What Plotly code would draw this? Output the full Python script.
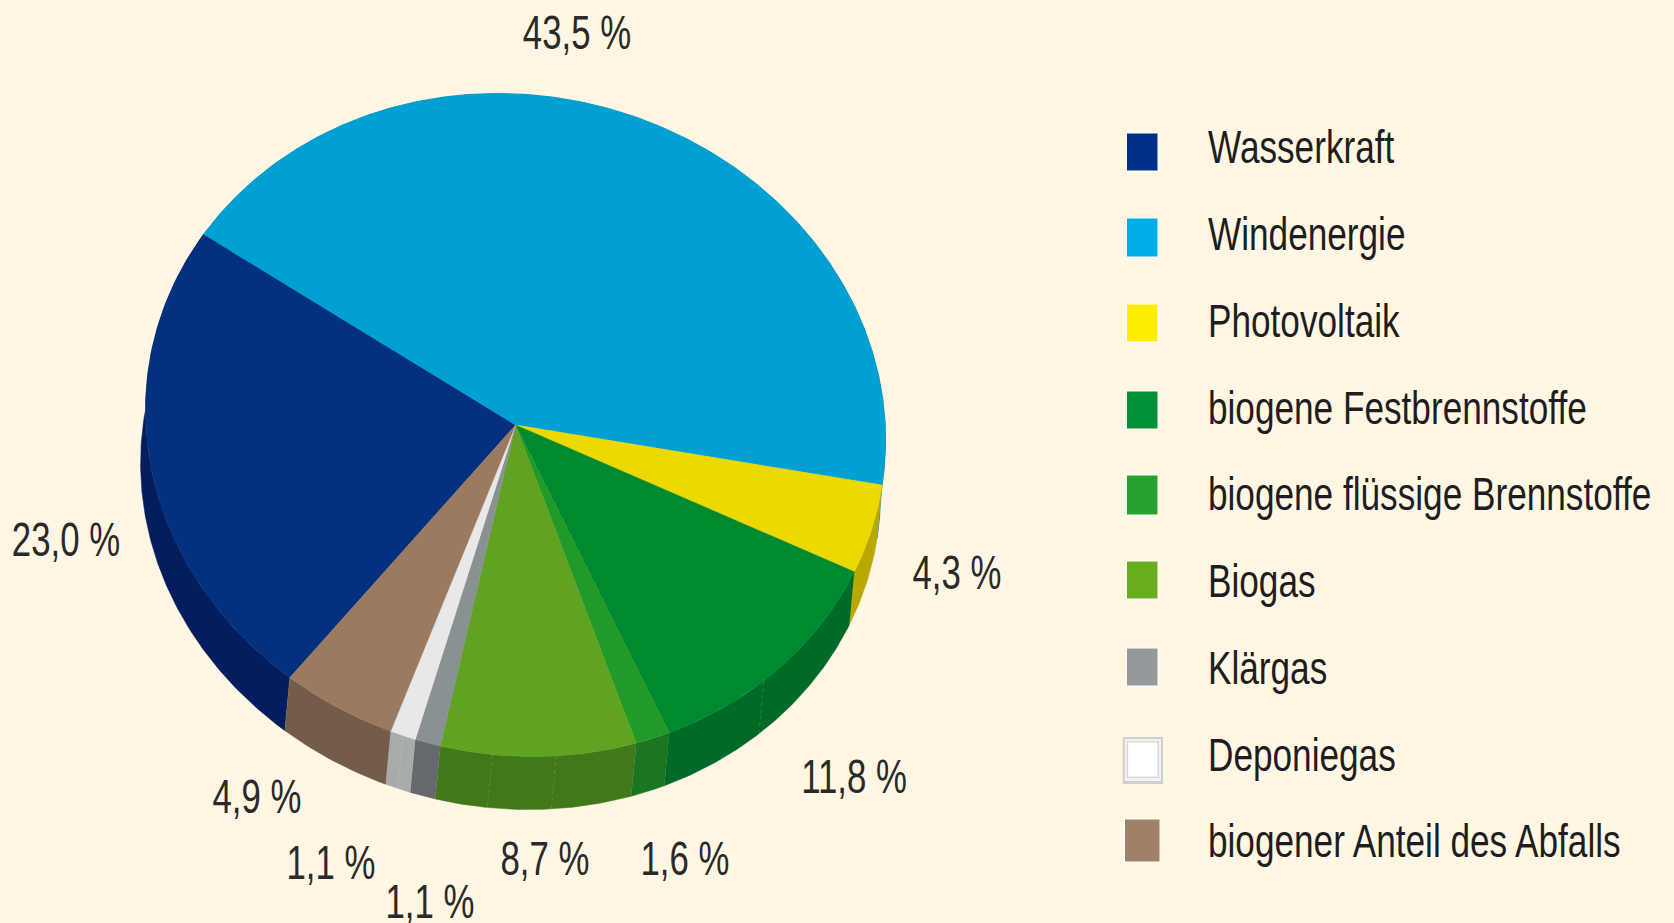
import numpy as np
import plotly.graph_objects as go

# --- data ---
categories = ["Wasserkraft", "Windenergie", "Photovoltaik", "biogene Festbrennstoffe",
              "biogene flüssige Brennstoffe", "Biogas", "Klärgas", "Deponiegas",
              "biogener Anteil des Abfalls"]
values = [23.0, 43.5, 4.3, 11.8, 1.6, 8.7, 1.1, 1.1, 4.9]
top_colors = ["#03307F", "#00A0D2", "#ECD900", "#008A30", "#229A2A", "#60A222", "#8A9193", "#E8E8E8", "#9A7B62"]
wall_colors = ["#021E5F", "#0080A8", "#B8A800", "#006A28", "#1C7520", "#41781A", "#65686C", "#A8ABAC", "#735C49"]
swatch_colors = ["#003087", "#00AEE8", "#FFED00", "#009036", "#28A22E", "#6AAE20", "#94999B", "#FFFFFF", "#A08068"]

# label centres (pixel layout of the page)
label_x = [66, 577, 957, 854, 685, 545, 430, 331, 257]
label_y = [544, 37, 577, 781, 863, 863, 906, 867, 801]
swatch_boxes = [(1126.4, 1158, 133, 171), (1126.4, 1158, 218, 257), (1126.4, 1158, 304, 342), (1126.4, 1158, 391, 429),
                (1126.4, 1158, 475, 515), (1126.4, 1158, 561, 599), (1126.4, 1158, 648, 686), (1122.7, 1163, 737, 784),
                (1124.5, 1160, 819, 862)]
# faint seams on the side wall: (slice index, fraction along the slice)
seams = [(3, 0.57), (5, 0.42), (5, 0.74), (7, 0.5)]

# --- geometry ---
BG = "#FFF7E3"
CX, CY, RX, RY = 515.6, 425.0, 365.5, 335.0
DX, DY = -5.0, 53.0
START = -139.1


def rim(t):
    d = (t - 180.0 + 180.0) % 360.0 - 180.0
    tw = t - 3.6 * np.exp(-(d / 45.0) ** 2)
    r = 1 + 0.026 * np.cos(np.radians(2 * (tw - 122.0)))
    a = np.radians(tw)
    return CX + RX * r * np.sin(a), CY - RY * r * np.cos(a)


fig = go.Figure()
bounds = START + np.cumsum([0] + values) * 3.6
arcs = [np.linspace(bounds[i], bounds[i + 1], max(12, int(values[i] * 8))) for i in range(len(values))]

# side walls first
for arc, col in zip(arcs, wall_colors):
    x, y = rim(arc)
    px = np.concatenate([x, x[::-1] + DX])
    py = np.concatenate([y, y[::-1] + DY])
    fig.add_trace(go.Scatter(x=px, y=py, mode="lines", fill="toself", fillcolor=col,
                             line=dict(color=col, width=0.5), hoverinfo="skip", showlegend=False))
for i, f in seams:
    sx, sy = rim(bounds[i] + f * (bounds[i + 1] - bounds[i]))
    fig.add_trace(go.Scatter(x=[sx, sx + DX], y=[sy, sy + DY], mode="lines", hoverinfo="skip",
                             line=dict(color="rgba(255,247,227,0.16)", width=1, dash="4px,3px")))
# top wedges
for arc, col, name, v in zip(arcs, top_colors, categories, values):
    x, y = rim(arc)
    px = np.concatenate([[CX], x, [CX]])
    py = np.concatenate([[CY], y, [CY]])
    fig.add_trace(go.Scatter(x=px, y=py, mode="lines", fill="toself", fillcolor=col,
                             line=dict(color=col, width=0.5), name=name,
                             hovertemplate=f"{name}: {v} %<extra></extra>", showlegend=False))

FONT = "Liberation Sans, Arial, sans-serif"
fig.add_trace(go.Scatter(x=label_x, y=label_y, mode="text",
                         text=[f"{v:.1f} %".replace(".", ",") for v in values],
                         textposition="middle center", hoverinfo="skip", cliponaxis=False,
                         textfont=dict(family=FONT, size=48, color="#2A2A2A")))
fig.add_trace(go.Scatter(x=[1208] * len(categories), y=[152 + 86.75 * i for i in range(len(categories))],
                         mode="text", text=categories, textposition="middle right",
                         hoverinfo="skip", cliponaxis=False,
                         textfont=dict(family=FONT, size=46, color="#1E1E22")))

shapes = []
for name, col, (x0, x1, y0, y1) in zip(categories, swatch_colors, swatch_boxes):
    if name == "Deponiegas":
        shapes.append(dict(type="rect", x0=x0, x1=x1, y0=y0, y1=y1, fillcolor="#CCD0D0", line_width=0, layer="above"))
        shapes.append(dict(type="rect", x0=x0 + 2, x1=x1 - 2, y0=y0 + 2, y1=y1 - 3, fillcolor="#F2F2F0", line_width=0, layer="above"))
        shapes.append(dict(type="rect", x0=x0 + 4, x1=x1 - 4, y0=y0 + 4, y1=y1 - 6, fillcolor="#D8DADA", line_width=0, layer="above"))
        shapes.append(dict(type="rect", x0=x0 + 5.5, x1=x1 - 5.5, y0=y0 + 5.5, y1=y1 - 7.5, fillcolor=col, line_width=0, layer="above"))
    else:
        shapes.append(dict(type="rect", x0=x0, x1=x1, y0=y0, y1=y1, fillcolor=col,
                           line=dict(color="#FFFFFF", width=1), layer="above"))

fig.update_layout(
    width=1674, height=923, margin=dict(l=0, r=0, t=0, b=0),
    paper_bgcolor=BG, plot_bgcolor=BG, showlegend=False,
    xaxis=dict(range=[0, 1674], visible=False, fixedrange=True),
    yaxis=dict(range=[923, 0], visible=False, fixedrange=True),
    shapes=shapes,
)
post = """
document.documentElement.style.background = '#FFF7E3';
document.body.style.margin = '0';
document.body.style.overflow = 'hidden';
document.querySelectorAll('.textpoint text').forEach(function (t) {
  var k = parseFloat(t.style.fontSize) > 47 ? 0.725 : 0.765;
  var x = parseFloat(t.getAttribute('x')) || 0;
  t.setAttribute('transform', 'translate(' + x + ' 0) scale(' + k + ' 1) translate(' + (-x) + ' 0)');
});
"""
fig.write_html("out.html", config=dict(displayModeBar=False), post_script=post)
